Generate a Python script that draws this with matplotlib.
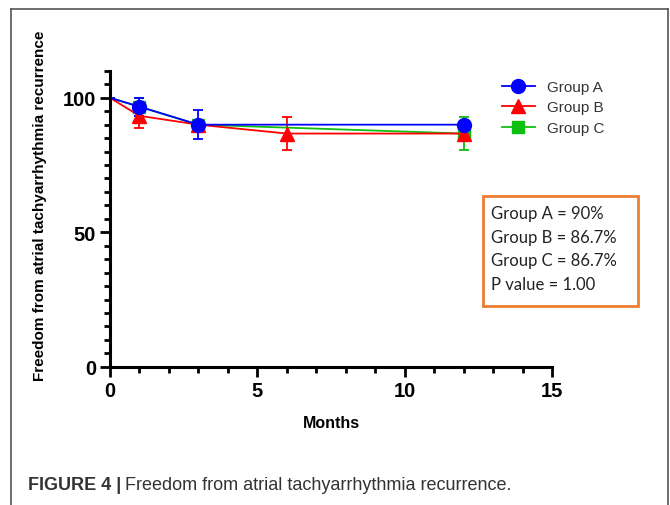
import matplotlib
matplotlib.use("Agg")
import matplotlib.pyplot as plt
from matplotlib.lines import Line2D
from matplotlib.patches import Rectangle
from matplotlib.ticker import MultipleLocator

# ---------------------------------------------------------------
# data
# ---------------------------------------------------------------
months_a = [0, 1, 3, 12]
freedom_a = [100, 96.7, 90, 90]
err_a = [0, 3.3, 5.4, 0]

months_b = [0, 1, 3, 6, 12]
freedom_b = [100, 93.3, 90, 86.7, 86.7]
err_b = [0, 4.5, 0, 6.2, 0]

months_c = [0, 1, 3, 12]
freedom_c = [100, 96.7, 90, 86.7]
err_c = [0, 3.3, 0, 6.2]

group_labels = ["Group A", "Group B", "Group C"]
summary_lines = ["Group A = 90%", "Group B = 86.7%", "Group C = 86.7%", "P value = 1.00"]

plt.rcParams['font.family'] = ['Liberation Sans', 'DejaVu Sans']

fig = plt.figure(figsize=(6.7, 5.06), dpi=100)
ax = fig.add_axes([0.164, 0.273, 0.660, 0.585])

# draw C first, A last so blue sits on top; no marker at month 0
eb_kw = dict(linewidth=1.3, capsize=3.8, elinewidth=1.3, capthick=1.3,
             markevery=slice(1, None))
ax.errorbar(months_c, freedom_c, yerr=err_c, color='#10C010', marker='s', markersize=9, **eb_kw)
ax.errorbar(months_b, freedom_b, yerr=err_b, color='#FF0000', marker='^', markersize=9.5, **eb_kw)
ax.errorbar(months_a, freedom_a, yerr=err_a, color='#0000FF', marker='o', markersize=10, **eb_kw)

ax.set_xlim(0, 15)
ax.set_ylim(0, 110)
ax.set_xticks([0, 5, 10, 15])
ax.set_yticks([0, 50, 100])
ax.xaxis.set_minor_locator(MultipleLocator(1))
ax.yaxis.set_minor_locator(MultipleLocator(5))
ax.tick_params(which='major', length=7, width=2, labelsize=14.5, pad=3)
ax.tick_params(which='minor', length=4, width=2)
for lab in ax.get_xticklabels() + ax.get_yticklabels():
    lab.set_fontweight('bold')

for side in ['top', 'right']:
    ax.spines[side].set_visible(False)
for side in ['left', 'bottom']:
    ax.spines[side].set_linewidth(2.2)
ax.spines['left'].set_bounds(0, 110)

ax.set_xlabel('Months', fontsize=11.5, fontweight='bold', labelpad=11)

fig.text(0.059, 1 - 206 / 506, 'Freedom from atrial tachyarrhythmia recurrence',
         rotation=90, ha='center', va='center', fontsize=11, fontweight='bold')

# legend
handles = [
    Line2D([], [], color='#0000FF', marker='o', markersize=10, linewidth=1.3),
    Line2D([], [], color='#FF0000', marker='^', markersize=9.5, linewidth=1.3),
    Line2D([], [], color='#10C010', marker='s', markersize=9, linewidth=1.3),
]
fig.legend(handles, group_labels, loc='upper left', bbox_to_anchor=(0.728, 0.867),
           frameon=False, fontsize=11, handlelength=2.2, labelspacing=0.42,
           handletextpad=0.8, labelcolor='#333333')

# summary box
fig.add_artist(Rectangle((483 / 670, 1 - 307 / 506), 155 / 670, 110 / 506,
                         transform=fig.transFigure, fill=False,
                         edgecolor='#ED7D31', linewidth=2))
for i, line in enumerate(summary_lines):
    fig.text(491 / 670, 1 - (214 + i * 23.7) / 506, line, fontsize=12,
             family='Lato', color='#222222', va='center', ha='left')

# outer frame of the figure panel
frame_kw = dict(transform=fig.transFigure, color='#555555', linewidth=1.2)
fig.add_artist(Line2D([11 / 670, 11 / 670], [0, 1 - 10 / 506], **frame_kw))
fig.add_artist(Line2D([11 / 670, 668 / 670], [1 - 10 / 506, 1 - 10 / 506], **frame_kw))
fig.add_artist(Line2D([668 / 670, 668 / 670], [0, 1 - 10 / 506], **frame_kw))

# caption
cap = fig.text(28 / 670, 1 - 486 / 506, 'FIGURE 4 |', fontsize=13, fontweight='bold',
               color='#333333', va='center', ha='left')
fig.canvas.draw()
bb = cap.get_window_extent()
fig.text((bb.x1 + 4) / 670, 1 - 486 / 506, 'Freedom from atrial tachyarrhythmia recurrence.',
         fontsize=13, color='#333333', va='center', ha='left')

fig.savefig('out.png', dpi=100)
